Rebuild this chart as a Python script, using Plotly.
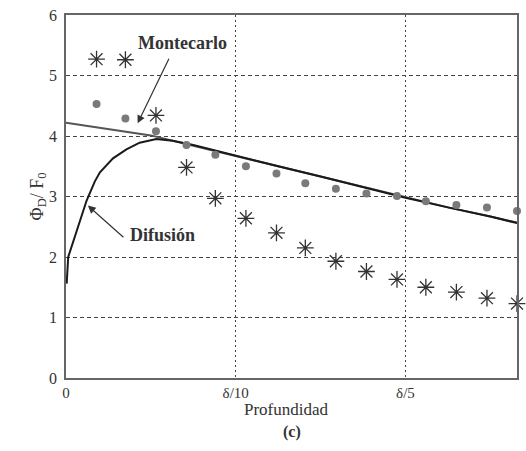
import plotly.graph_objects as go

# Data (depth in units of delta)
x_pts = [0.018, 0.035, 0.053, 0.071, 0.088, 0.106, 0.124, 0.141, 0.159, 0.177,
         0.195, 0.212, 0.230, 0.248, 0.2657]
dots = [4.53, 4.29, 4.08, 3.85, 3.69, 3.50, 3.38, 3.22, 3.13, 3.05,
        3.01, 2.92, 2.86, 2.82, 2.76]
stars = [5.27, 5.26, 4.34, 3.48, 2.97, 2.64, 2.40, 2.15, 1.93, 1.76,
         1.63, 1.50, 1.42, 1.32, 1.23]

mc_x = [0.0, 0.025, 0.05, 0.075, 0.1, 0.125, 0.15, 0.175, 0.2, 0.225, 0.25, 0.2657]
mc_y = [4.22, 4.12, 4.01, 3.84, 3.67, 3.50, 3.33, 3.15, 2.98, 2.82, 2.67, 2.57]

dif_x = [0.0004, 0.0013, 0.0063, 0.0121, 0.0141, 0.017, 0.020, 0.0277, 0.0356,
         0.0434, 0.0532, 0.0628, 0.075, 0.1, 0.125, 0.15, 0.175, 0.2, 0.225, 0.25, 0.2657]
dif_y = [1.56, 2.0, 2.43, 2.93, 3.06, 3.25, 3.40, 3.63, 3.78,
         3.89, 3.95, 3.92, 3.85, 3.67, 3.50, 3.33, 3.15, 2.98, 2.82, 2.67, 2.56]

x_tickvals = [0, 0.1, 0.2]
x_ticktext = ["0", "δ/10", "δ/5"]
y_tickvals = [0, 1, 2, 3, 4, 5, 6]

FONT = "Liberation Serif, Times New Roman, serif"

fig = go.Figure()
fig.add_trace(go.Scatter(x=mc_x, y=mc_y, mode="lines",
                         line=dict(color="#555555", width=2), cliponaxis=False))
fig.add_trace(go.Scatter(x=dif_x, y=dif_y, mode="lines",
                         line=dict(color="#1a1a1a", width=2), cliponaxis=False))
fig.add_trace(go.Scatter(x=x_pts, y=dots, mode="markers", cliponaxis=False,
                         marker=dict(symbol="circle", size=8, color="#7a7a7a")))
fig.add_trace(go.Scatter(x=x_pts, y=stars, mode="markers", cliponaxis=False,
                         marker=dict(symbol="asterisk-open", size=14, color="#333333",
                                     line=dict(color="#333333", width=1.3))))

ann = []
# arrows
ann.append(dict(x=0.0422, y=4.21, xref="x", yref="y", ax=32, ay=-66, text="",
                showarrow=True, arrowhead=2, arrowsize=1.3, arrowwidth=1.2,
                arrowcolor="#333333"))
ann.append(dict(x=0.0129, y=2.85, xref="x", yref="y", ax=37, ay=33, text="",
                showarrow=True, arrowhead=2, arrowsize=1.3, arrowwidth=1.2,
                arrowcolor="#333333"))
ann.append(dict(x=0.0686, y=5.53, xref="x", yref="y", text="<b>Montecarlo</b>",
                showarrow=False, font=dict(family=FONT, size=18, color="#333333")))
ann.append(dict(x=0.0569, y=2.37, xref="x", yref="y", text="<b>Difusión</b>",
                showarrow=False, font=dict(family=FONT, size=18, color="#333333")))
ann.append(dict(x=0.49, y=-0.086, xref="paper", yref="paper", yanchor="middle",
                text="Profundidad",
                showarrow=False, font=dict(family=FONT, size=17, color="#333333")))
ann.append(dict(x=0.5, y=-0.148, xref="paper", yref="paper", yanchor="middle",
                text="<b>(c)</b>",
                showarrow=False, font=dict(family=FONT, size=16, color="#333333")))
ann.append(dict(x=-0.092, y=0.5, xref="paper", yref="paper",
                text="Φ<sub>D</sub>/ F<sub>0</sub>", textangle=-90,
                showarrow=False, font=dict(family=FONT, size=18, color="#333333")))

fig.update_layout(
    width=526, height=451,
    margin=dict(l=66, r=7, t=13, b=73),
    paper_bgcolor="white", plot_bgcolor="white",
    showlegend=False,
    font=dict(family=FONT, size=16, color="#333333"),
    annotations=ann,
    xaxis=dict(range=[0, 0.2657], tickvals=x_tickvals, ticktext=x_ticktext,
               showgrid=True, gridcolor="#444444", gridwidth=1, griddash="2px,3px",
               zeroline=False, showline=True, linecolor="#666666", linewidth=1.5,
               mirror=True, ticks="", tickfont=dict(family=FONT, size=15),
               ticklabelstandoff=0),
    yaxis=dict(range=[0, 6], tickvals=y_tickvals,
               showgrid=True, gridcolor="#444444", gridwidth=1, griddash="4px,3px",
               zeroline=False, showline=True, linecolor="#666666", linewidth=1.5,
               mirror=True, ticks="", tickfont=dict(family=FONT, size=16),
               ticklabelstandoff=4),
)

fig.write_html("out.html")
